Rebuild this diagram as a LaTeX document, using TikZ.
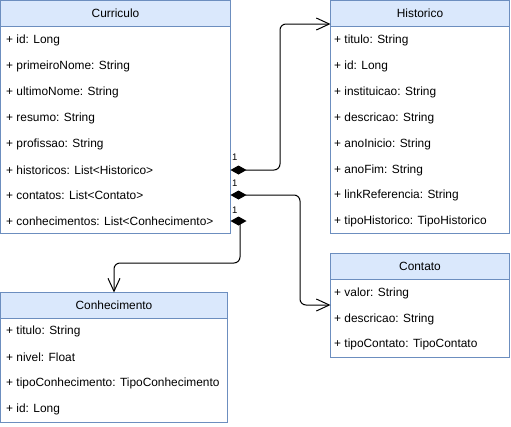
\documentclass[tikz,border=0pt]{standalone}
\usepackage{fontspec}
\setmainfont{Liberation Sans}
\usetikzlibrary{arrows.meta}
\definecolor{hdrfill}{HTML}{DAE8FC}
\definecolor{hdrline}{HTML}{6C8EBF}
\tikzset{
 boxbody/.style={draw=hdrline, fill=white, line width=1pt, anchor=north west, inner sep=0pt, outer sep=0pt},
 boxhead/.style={draw=hdrline, fill=hdrfill, line width=1pt, anchor=north west, inner sep=0pt, outer sep=0pt, minimum height=26pt, font=\fontsize{11.9}{14}\selectfont},
 attr/.style={anchor=west, inner sep=0pt, font=\fontsize{11.9}{14}\selectfont},
 mult/.style={anchor=west, inner sep=0pt, font=\fontsize{9.5}{11}\selectfont},
 assoc/.style={line width=1pt, rounded corners=6pt, {Diamond[length=16pt,width=9pt]}-{Straight Barb[length=13pt,width=12pt]}},
 plainlink/.style={line width=1pt, rounded corners=6pt, -{Straight Barb[length=13pt,width=12pt]}},
}
\begin{document}
\begin{tikzpicture}[x=1pt,y=-1pt]
\useasboundingbox (0,0) rectangle (511,426);
% Curriculo
\node[boxbody, minimum width=230pt, minimum height=233pt] (cur) at (0.5,0.5) {};
\node[boxhead, minimum width=230pt] (curh) at (0.5,0.5) {Curriculo};
\node[attr] (c1) at (6,40) {+ id: Long};
\node[attr] (c2) at (6,66) {+ primeiroNome: String};
\node[attr] (c3) at (6,92) {+ ultimoNome: String};
\node[attr] (c4) at (6,118) {+ resumo: String};
\node[attr] (c5) at (6,144) {+ profissao: String};
\node[attr] (c6) at (6,170) {+ historicos: List<Historico>};
\node[attr] (c7) at (6,195) {+ contatos: List<Contato>};
\node[attr] (c8) at (6,221) {+ conhecimentos: List<Conhecimento>};
% Historico
\node[boxbody, minimum width=179pt, minimum height=233pt] (his) at (330.5,0.5) {};
\node[boxhead, minimum width=179pt] (hish) at (330.5,0.5) {Historico};
\node[attr] (h1) at (334,40) {+ titulo: String};
\node[attr] (h2) at (334,66) {+ id: Long};
\node[attr] (h3) at (334,92) {+ instituicao: String};
\node[attr] (h4) at (334,118) {+ descricao: String};
\node[attr] (h5) at (334,144) {+ anoInicio: String};
\node[attr] (h6) at (334,170) {+ anoFim: String};
\node[attr] (h7) at (334,195) {+ linkReferencia: String};
\node[attr] (h8) at (334,221) {+ tipoHistorico: TipoHistorico};
% Contato
\node[boxbody, minimum width=179pt, minimum height=104pt] (con) at (330.5,253.5) {};
\node[boxhead, minimum width=179pt] (conh) at (330.5,253.5) {Contato};
\node[attr] (k1) at (334,293) {+ valor: String};
\node[attr] (k2) at (334,319) {+ descricao: String};
\node[attr] (k3) at (334,344) {+ tipoContato: TipoContato};
% Conhecimento
\node[boxbody, minimum width=227pt, minimum height=130pt] (kno) at (0.5,292.5) {};
\node[boxhead, minimum width=227pt] (knoh) at (0.5,292.5) {Conhecimento};
\node[attr] (n1) at (6,331) {+ titulo: String};
\node[attr] (n2) at (6,357) {+ nivel: Float};
\node[attr] (n3) at (6,383) {+ tipoConhecimento: TipoConhecimento};
\node[attr] (n4) at (6,409) {+ id: Long};
% waypoints
\coordinate (w1) at (280,24);
\coordinate (w2) at (300,305);
\coordinate (w3) at (240,221);
\coordinate (w4) at (114,263);
% connectors
\draw[assoc] (cur.east |- c6) -| (w1) -- (his.west |- w1);
\draw[assoc] (cur.east |- c7) -| (w2) -- (con.west |- w2);
\fill (cur.east |- c8) -- ++(8,-4.5) -- ++(8,4.5) -- ++(-8,4.5) -- cycle;
\draw[plainlink] (w3) |- (w4) -- (knoh.north -| w4);
% multiplicities
\node[mult] (m1) at (232,157) {1};
\node[mult] (m2) at (232,183) {1};
\node[mult] (m3) at (232,210) {1};
\end{tikzpicture}
\end{document}
